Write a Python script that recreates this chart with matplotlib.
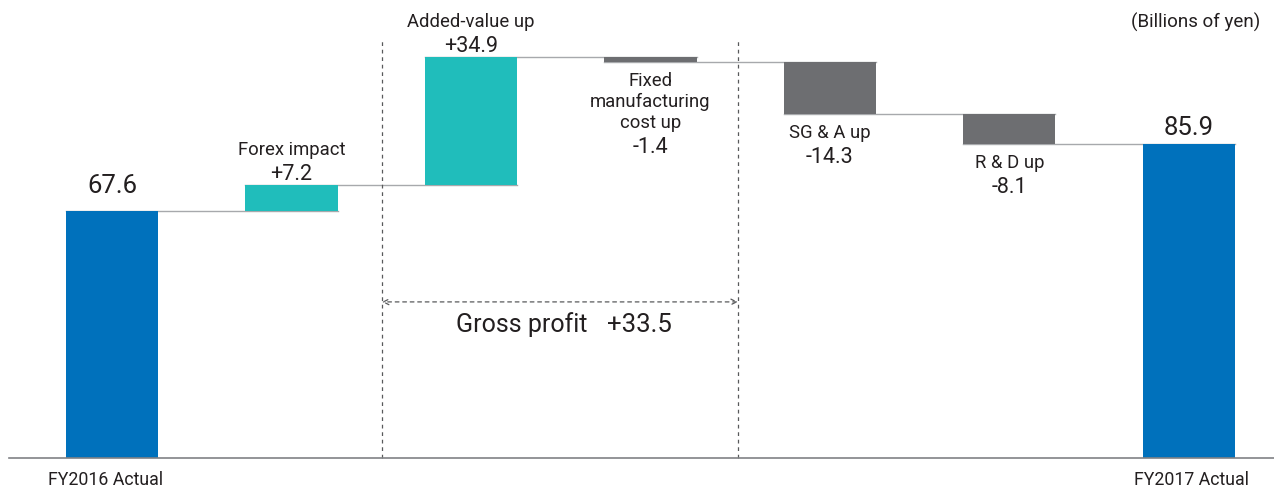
import matplotlib.pyplot as plt

# waterfall data (billions of yen)
steps = ["FY2016 Actual", "Forex impact", "Added-value up",
         "Fixed\nmanufacturing\ncost up", "SG & A up", "R & D up", "FY2017 Actual"]
values = [67.6, 7.2, 34.9, -1.4, -14.3, -8.1, 85.9]
is_total = [True, False, False, False, False, False, True]
gross_profit = 33.5

BLUE = "#0071bc"
TEAL = "#20bdbb"
GREY = "#6d6e71"
LINE = "#a7a9ac"
TEXT = "#231f20"
FONT = ["Roboto", "DejaVu Sans"]
PT = 0.72  # points per pixel at 100 dpi

fig = plt.figure(figsize=(12.74, 4.90), dpi=100)
ax = fig.add_axes([0, 0, 1, 1])
ax.set_xlim(-0.624, 6.474)
ax.set_ylim(-8.76, 125.3)
ax.axis("off")

width = 0.513
x = list(range(len(values)))

# bar extents
bottoms, tops = [], []
level = 0.0
for v, tot in zip(values, is_total):
    if tot:
        bottoms.append(0.0)
        tops.append(v)
        level = v
    else:
        new = level + v
        bottoms.append(min(level, new))
        tops.append(max(level, new))
        level = new

colors = [BLUE if tot else (TEAL if v > 0 else GREY)
          for v, tot in zip(values, is_total)]
heights = [t - b for t, b in zip(tops, bottoms)]
ax.bar(x, heights, bottom=bottoms, width=width, color=colors, zorder=2)

# connectors
level = 0.0
for i, (v, tot) in enumerate(zip(values, is_total)):
    level = v if tot else level + v
    if i < len(values) - 1:
        ax.plot([i - width / 2, i + 1 + width / 2], [level, level],
                color=LINE, lw=1.0, zorder=1)

# baseline
ax.plot([-0.574, 6.474], [0, 0], color="#808285", lw=1.2, zorder=3)


def put(s, xy, dx_px, dy_px, size, ha="center"):
    ax.annotate(s, xy=xy, xytext=(dx_px * PT, dy_px * PT),
                textcoords="offset points", ha=ha, va="baseline",
                fontsize=size, family=FONT, color=TEXT)


total_gap = {0: 18, 6: 9}
for i, (lab, v, tot) in enumerate(zip(steps, values, is_total)):
    if tot:
        put(f"{v:.1f}", (i, tops[i]), 0, total_gap[i], 18.5)
        if i == 0:
            put(lab, (i - width / 2, 0), -18, -27, 12.8, ha="left")
        else:
            put(lab, (i + width / 2, 0), 14, -27, 12.8, ha="right")
    elif v > 0:
        put(f"+{v:.1f}", (i, tops[i]), 0, 5, 15.5)
        put(lab, (i, tops[i]), 0, 30, 13.3)
    else:
        lines = lab.split("\n")
        for k, ln in enumerate(lines):
            put(ln, (i, bottoms[i]), 0, -(24 + 21 * k), 13.3)
        put(f"{v:.1f}", (i, bottoms[i]), 0, -(24 + 21 * (len(lines) - 1) + 25), 15.5)

# gross profit bracket
for xv in (1.504, 3.487):
    ax.plot([xv, xv], [0, 114.4], color="#58595b", lw=0.9,
            linestyle=(0, (3, 3)), zorder=1)
ax.annotate("", xy=(1.504, 42.7), xytext=(3.487, 42.7),
            arrowprops=dict(arrowstyle="<->", color="#58595b", lw=0.9,
                            linestyle=(0, (3, 3)), shrinkA=0, shrinkB=0))
ax.text(2.646, 34.4, "Gross profit", ha="right", va="baseline",
        fontsize=18, family=FONT, color=TEXT)
ax.text(2.758, 34.4, f"+{gross_profit:.1f}", ha="left", va="baseline",
        fontsize=18.5, family=FONT, color=TEXT)

ax.text(6.4, 119.3, "(Billions of yen)", ha="right", va="center",
        fontsize=13.5, family=FONT, color=TEXT)

fig.savefig("out.png", dpi=100)
